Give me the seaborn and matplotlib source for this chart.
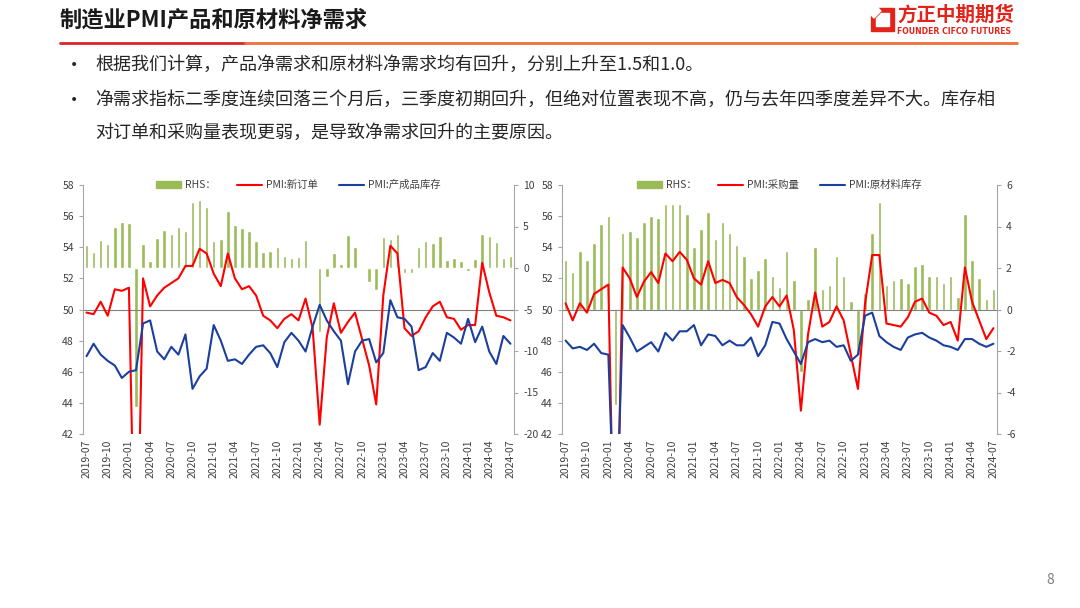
import numpy as np
import pandas as pd
import matplotlib
import matplotlib.pyplot as plt
import seaborn as sns
from matplotlib.lines import Line2D
from matplotlib.patches import Patch, Polygon

matplotlib.use('Agg')

months = pd.period_range('2019-07', '2024-07', freq='M').strftime('%Y-%m').tolist()

# 左图: 新订单 / 产成品库存 / 产品净需求(RHS)
new_orders = [49.8, 49.7, 50.5, 49.6, 51.3, 51.2,
              51.4, 29.3, 52.0, 50.2, 50.9, 51.4, 51.7, 52.0, 52.8, 52.8, 53.9, 53.6,
              52.3, 51.5, 53.6, 52.0, 51.3, 51.5, 50.9, 49.6, 49.3, 48.8, 49.4, 49.7,
              49.3, 50.7, 48.8, 42.6, 48.2, 50.4, 48.5, 49.2, 49.8, 48.1, 46.4, 43.9,
              50.9, 54.1, 53.6, 48.8, 48.3, 48.6, 49.5, 50.2, 50.5, 49.5, 49.4, 48.7,
              49.0, 49.0, 53.0, 51.1, 49.6, 49.5, 49.3]
fg_inventory = [47.0, 47.8, 47.1, 46.7, 46.4, 45.6,
                46.0, 46.1, 49.1, 49.3, 47.3, 46.8, 47.6, 47.1, 48.4, 44.9, 45.7, 46.2,
                49.0, 48.0, 46.7, 46.8, 46.5, 47.1, 47.6, 47.7, 47.2, 46.3, 47.9, 48.5,
                48.0, 47.3, 48.9, 50.3, 49.3, 48.6, 48.0, 45.2, 47.3, 48.0, 48.1, 46.6,
                47.2, 50.6, 49.5, 49.4, 48.9, 46.1, 46.3, 47.2, 46.7, 48.5, 48.2, 47.8,
                49.4, 47.9, 48.9, 47.3, 46.5, 48.3, 47.8]
product_net = [2.8, 1.9, 3.4, 2.9, 4.9, 5.6,
               5.4, -16.8, 2.9, 0.9, 3.6, 4.6, 4.1, 4.9, 4.4, 7.9, 8.2, 7.4,
               3.3, 3.5, 6.9, 5.2, 4.8, 4.4, 3.3, 1.9, 2.1, 2.5, 1.5, 1.2,
               1.3, 3.4, -0.1, -7.7, -1.1, 1.8, 0.5, 4.0, 2.5, 0.1, -1.7, -2.7,
               3.7, 3.5, 4.1, -0.6, -0.6, 2.5, 3.2, 3.0, 3.8, 1.0, 1.2, 0.9,
               -0.4, 1.1, 4.1, 3.8, 3.1, 1.2, 1.5]

# 右图: 采购量 / 原材料库存 / 原材料净需求(RHS)
purchase = [50.4, 49.3, 50.4, 49.8, 51.0, 51.3,
            51.6, 29.3, 52.7, 52.0, 50.8, 51.8, 52.4, 51.7, 53.6, 53.1, 53.7, 53.2,
            52.0, 51.6, 53.1, 51.7, 51.9, 51.7, 50.8, 50.3, 49.7, 48.9, 50.2, 50.8,
            50.2, 50.9, 48.7, 43.5, 48.4, 51.1, 48.9, 49.2, 50.2, 49.3, 47.1, 44.9,
            50.4, 53.5, 53.5, 49.1, 49.0, 48.9, 49.5, 50.5, 50.7, 49.8, 49.6, 49.0,
            49.2, 48.0, 52.7, 50.5, 49.3, 48.1, 48.8]
raw_inventory = [48.0, 47.5, 47.6, 47.4, 47.8, 47.2,
                 47.1, 33.9, 49.0, 48.2, 47.3, 47.6, 47.9, 47.3, 48.5, 48.0, 48.6, 48.6,
                 49.0, 47.7, 48.4, 48.3, 47.7, 48.0, 47.7, 47.7, 48.2, 47.0, 47.7, 49.2,
                 49.1, 48.1, 47.3, 46.5, 47.9, 48.1, 47.9, 48.0, 47.6, 47.7, 46.7, 47.1,
                 49.6, 49.8, 48.3, 47.9, 47.6, 47.4, 48.2, 48.4, 48.5, 48.2, 48.0, 47.7,
                 47.6, 47.4, 48.1, 48.1, 47.8, 47.6, 47.8]
raw_net = [2.4, 1.8, 2.8, 2.4, 3.2, 4.1,
           4.5, -4.6, 3.7, 3.8, 3.5, 4.2, 4.5, 4.4, 5.1, 5.1, 5.1, 4.6,
           3.0, 3.9, 4.7, 3.4, 4.2, 3.7, 3.1, 2.6, 1.5, 1.9, 2.5, 1.6,
           1.1, 2.8, 1.4, -3.0, 0.5, 3.0, 1.0, 1.2, 2.6, 1.6, 0.4, -2.2,
           0.8, 3.7, 5.2, 1.2, 1.4, 1.5, 1.3, 2.1, 2.2, 1.6, 1.6, 1.3,
           1.6, 0.6, 4.6, 2.4, 1.5, 0.5, 1.0]

GREEN = '#9BBB59'
RED = '#FF0000'
BLUE = '#1C3F9E'
GRAY = '#A6A6A6'
TXT = '#404040'
LOGO_RED = '#E2231A'

sns.set_style('white')
plt.rcParams['font.family'] = ['Noto Sans CJK SC', 'DejaVu Sans']
plt.rcParams['axes.unicode_minus'] = False

W, H = 1080, 608
fig = plt.figure(figsize=(W / 100, H / 100), dpi=100)


def px(x, y):
    return x / W, 1 - y / H


def draw_panel(left, right, red_vals, blue_vals, bar_vals, red_name, blue_name, rlim, rticks):
    x0, y1 = px(left, 185)
    x1, y0 = px(right, 434)
    ax = fig.add_axes([x0, y0, x1 - x0, y1 - y0])
    ax2 = ax.twinx()
    pos = np.arange(len(months))
    df = pd.DataFrame({'pos': pos, 'red': red_vals, 'blue': blue_vals, 'bar': bar_vals})

    sns.barplot(data=df, x='pos', y='bar', ax=ax2, color=GREEN, saturation=1,
                width=0.5, native_scale=True, errorbar=None)
    sns.lineplot(data=df, x='pos', y='red', ax=ax, color=RED, lw=1.5)
    sns.lineplot(data=df, x='pos', y='blue', ax=ax, color=BLUE, lw=1.5)

    ax.set_zorder(ax2.get_zorder() + 1)
    ax.patch.set_visible(False)

    ax.set_xlim(-0.5, len(months) - 0.5)
    ax.set_ylim(42, 58)
    ax.set_yticks(range(42, 59, 2))
    ax2.set_ylim(*rlim)
    ax2.set_yticks(rticks)
    ax.axhline(50, color='#808080', lw=0.8, zorder=0)

    ax.set_xticks(pos[::3])
    ax.set_xticklabels(months[::3], rotation=90)
    for a in (ax, ax2):
        a.set_xlabel('')
        a.set_ylabel('')
        for s in a.spines.values():
            s.set_visible(False)
        a.tick_params(labelsize=7.5, colors=TXT, length=3, width=0.8)
    ax.spines['left'].set_visible(True)
    ax.spines['left'].set_color(GRAY)
    ax2.spines['right'].set_visible(True)
    ax2.spines['right'].set_color(GRAY)
    ax.tick_params(axis='y', color=GRAY)
    ax2.tick_params(axis='y', color=GRAY)
    ax.tick_params(axis='x', length=0, pad=4)

    handles = [Patch(color=GREEN), Line2D([], [], color=RED, lw=1.5),
               Line2D([], [], color=BLUE, lw=1.5)]
    ax.legend(handles, ['RHS：', red_name, blue_name], loc='center',
              bbox_to_anchor=(0.5, 1.0), ncol=3, frameon=False, fontsize=7.5,
              handlelength=2.4, handleheight=0.6, handletextpad=0.4,
              columnspacing=2.0, labelcolor=TXT)
    return ax


draw_panel(83, 514, new_orders, fg_inventory, product_net,
           'PMI:新订单', 'PMI:产成品库存', (-20, 10), range(-20, 11, 5))
draw_panel(562, 997, purchase, raw_inventory, raw_net,
           'PMI:采购量', 'PMI:原材料库存', (-6, 6), range(-6, 7, 2))

# 标题与页眉
fig.text(*px(60, 20), '制造业PMI产品和原材料净需求', fontsize=16, weight='heavy',
         va='center', ha='left', color='#1A1A1A')
fig.add_artist(Line2D([60 / W, 245 / W], [1 - 43 / H] * 2, color='#D9272E', lw=2))
fig.add_artist(Line2D([245 / W, 1017 / W], [1 - 43 / H] * 2, color='#F0703C', lw=2))

# logo
outer = [px(878, 8), px(894, 8), px(894, 31), px(871, 31), px(871, 15)]
inner = [px(881, 13), px(889, 13), px(889, 26), px(876, 26), px(876, 18)]
slash = [px(871, 15), px(878, 8), px(881, 11), px(874, 18)]
fig.add_artist(Polygon(outer, closed=True, color=LOGO_RED, transform=fig.transFigure))
fig.add_artist(Polygon(inner, closed=True, color='white', transform=fig.transFigure))
fig.add_artist(Polygon(slash, closed=True, color='white', transform=fig.transFigure))
fig.text(*px(897, 15), '方正中期期货', fontsize=14, weight='bold', color=LOGO_RED,
         va='center', ha='left')
fig.text(*px(897, 31), 'FOUNDER CIFCO FUTURES', fontsize=5.6, weight='bold',
         color=LOGO_RED, va='center', ha='left', family='DejaVu Sans')

# 正文
body = [(65, '根据我们计算，产品净需求和原材料净需求均有回升，分别上升至1.5和1.0。', True),
        (100, '净需求指标二季度连续回落三个月后，三季度初期回升，但绝对位置表现不高，仍与去年四季度差异不大。库存相', True),
        (133, '对订单和采购量表现更弱，是导致净需求回升的主要原因。', False)]
for y, s, bullet in body:
    if bullet:
        fig.text(*px(70, y), '•', fontsize=10, va='center', ha='left',
                 color='#262626', family='DejaVu Sans')
    fig.text(*px(95, y), s, fontsize=13, va='center', ha='left', color='#262626')

fig.text(*px(1050, 580), '8', fontsize=10, color='#7F7F7F', va='center', ha='center')

fig.savefig('out.png', dpi=100)
